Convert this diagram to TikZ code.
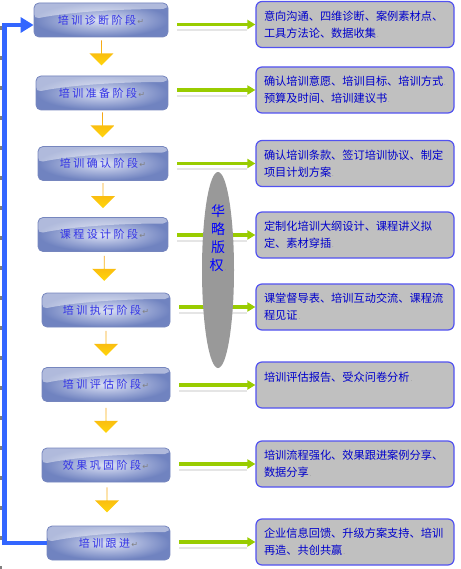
\documentclass[tikz,border=0pt]{standalone}
\usepackage{fontspec}
\setmainfont{Noto Sans CJK SC}
\newfontfamily\symfont{DejaVu Sans}
\usetikzlibrary{shapes.geometric,shapes.arrows,arrows.meta,positioning,calc}
\usepackage{xcolor}

\definecolor{stagein}{HTML}{DCE1F5}
\definecolor{stageout}{HTML}{7083C0}
\definecolor{stageedge}{HTML}{7686BE}
\definecolor{stagetext}{HTML}{3434E6}
\definecolor{infogray}{HTML}{C0C0C0}
\definecolor{infoedge}{HTML}{5252F0}
\definecolor{infotext}{HTML}{0000CC}
\definecolor{limegreen}{HTML}{99CC00}
\definecolor{fbblue}{HTML}{3366FF}
\definecolor{arrtop}{HTML}{F5A316}
\definecolor{arrbot}{HTML}{FFD60A}

\newcommand{\retmark}{{\symfont\color{gray}\fontsize{8}{8}\selectfont\,↵}}
\newcommand{\parmark}{{\color{gray}\fontsize{6}{6}\selectfont\,.}}

\begin{document}
\begin{tikzpicture}[x=1pt, y=-1pt,
    stage/.style={draw=stageedge, line width=0.8pt, rounded corners=5pt, inner color=stagein, outer color=stageout,
        minimum height=34pt, inner sep=0pt, text=stagetext,
        font=\fontsize{11}{13}\selectfont\addfontfeatures{LetterSpace=22},
        path picture={\fill[white, opacity=.45] (path picture bounding box.north west)
            -- ([yshift=-16pt]path picture bounding box.north west)
            .. controls ([xshift=40pt,yshift=-8pt]path picture bounding box.north west) and ([xshift=-40pt,yshift=-6pt]path picture bounding box.north east)
            .. ([yshift=-6pt]path picture bounding box.north east)
            -- (path picture bounding box.north east) -- cycle;}},
    info/.style={draw=infoedge, line width=1.2pt, rounded corners=6pt, fill=infogray, minimum width=198pt, minimum height=46pt,
        text width=182pt, align=left, text=infotext, font=\fontsize{11.2}{17}\selectfont},
    yarrow/.style={single arrow, shape border rotate=270, top color=arrtop, bottom color=arrbot, draw=none,
        minimum height=25pt, minimum width=24pt, single arrow head extend=6.5pt, inner sep=0pt},
    garrow/.style={draw=limegreen, line width=3.5pt, -{Triangle[length=8pt,width=9pt]}, shorten <=9pt},
    gshadow/.style={draw=black!10, line width=2pt, shorten <=9pt, shorten >=8pt},
    fb/.style={draw=fbblue, line width=4.5pt, line join=miter, -{Triangle[length=13pt,width=15pt]}}
]
\useasboundingbox (0,0) rectangle (460,569);

% left frame ticks
\draw[gray, line width=1.5pt, dash pattern=on 4pt off 26pt, dash phase=4pt] (0.8,0) -- (0.8,569);

% stages
\node[stage, minimum width=134pt] (s1) at (101,20) {培训诊断阶段\retmark};
\node[stage, minimum width=132pt] (s2) at (102,93) {培训准备阶段\retmark};
\node[stage, minimum width=130pt] (s3) at (103,163.5) {培训确认阶段\retmark};
\node[stage, minimum width=130pt] (s4) at (103,234.5) {课程设计阶段\retmark};
\node[stage, minimum width=128pt] (s5) at (106,310) {培训执行阶段\retmark};
\node[stage, minimum width=128pt] (s6) at (106,384.5) {培训评估阶段\retmark};
\node[stage, minimum width=128pt] (s7) at (106,465) {效果巩固阶段\retmark};
\node[stage, minimum width=123pt] (s8) at (108.5,543) {培训跟进\retmark};

% results
\node[info] (r1) at (355,24.5) {意向沟通、四维诊断、案例素材点、\\工具方法论、数据收集\parmark};
\node[info] (r2) at (355,90) {确认培训意愿、培训目标、培训方式\parmark\\预算及时间、培训建议书\parmark};
\node[info] (r3) at (355,163.5) {确认培训条款、签订培训协议、制定\\项目计划方案\parmark};
\node[info] (r4) at (355,235) {定制化培训大纲设计、课程讲义拟\\定、素材穿插\parmark};
\node[info] (r5) at (355,307) {课堂督导表、培训互动交流、课程流\\程见证\parmark};
\node[info] (r6) at (355,385) {培训评估报告、受众问卷分析\parmark\\\mbox{}};
\node[info] (r7) at (355,464) {培训流程强化、效果跟进案例分享、\\数据分享\parmark};
\node[info] (r8) at (355,542) {企业信息回馈、升级方案支持、培训\\再造、共创共赢\parmark};

% down arrows
\foreach \a/\b in {s1/s2,s2/s3,s3/s4,s4/s5,s5/s6,s6/s7,s7/s8}
  \path (\a.south) -- (\b.north) node[yarrow, pos=.4] {};

% stage -> result
\foreach \i in {1,...,8}{
  \draw[gshadow] ([yshift=-6pt]s\i.east |- r\i.west) -- ([yshift=-6pt]r\i.west);
  \draw[garrow] (s\i.east |- r\i.west) -- (r\i.west);
}

% copyright mark
\node[ellipse, fill=black!40, minimum width=32pt, minimum height=196pt, inner sep=0pt] (cr) at (218,270) {};
\node[align=center, text=blue, font=\fontsize{14}{18}\selectfont] (crtxt) at ([yshift=32pt]cr.center) {华\\略\\版\\权\parmark};

% feedback loop
\coordinate (fbx) at (4.5,0);
\coordinate (fbin) at ([yshift=-5pt]s1.west);
\draw[fb] (s8.west) -- (s8.west -| fbx) -- (fbin -| fbx) -- (fbin);
\end{tikzpicture}
\end{document}
